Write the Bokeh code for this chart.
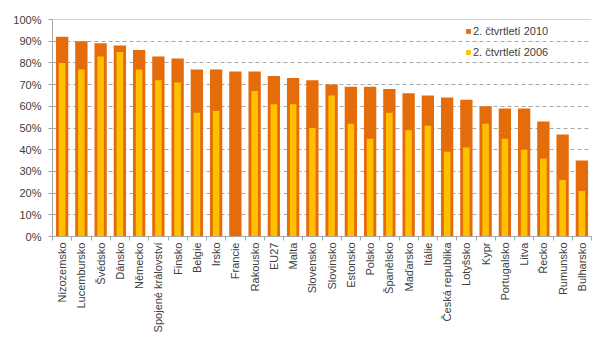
from bokeh.plotting import figure
from bokeh.models import (Range1d, LinearAxis, FixedTicker, CustomJSTickFormatter,
                          PrintfTickFormatter, Span, Legend, LegendItem, Label, ColumnDataSource)
from bokeh.embed import file_html
from bokeh.resources import INLINE

countries = ["Nizozemsko", "Lucembursko", "Švédsko", "Dánsko", "Německo", "Spojené království",
             "Finsko", "Belgie", "Irsko", "Francie", "Rakousko", "EU27", "Malta", "Slovensko",
             "Slovinsko", "Estonsko", "Polsko", "Španělsko", "Maďarsko", "Itálie",
             "Česká republika", "Lotyšsko", "Kypr", "Portugalsko", "Litva", "Řecko",
             "Rumunsko", "Bulharsko"]
q2_2010 = [92, 90, 89, 88, 86, 83, 82, 77, 77, 76, 76, 74, 73, 72,
           70, 69, 69, 68, 66, 65, 64, 63, 60, 59, 59, 53, 47, 35]
q2_2006 = [80, 77, 83, 85, 77, 72, 71, 57, 58, float("nan"), 67, 61, 61, 50,
           65, 52, 45, 57, 49, 51, 39, 41, 52, 45, 40, 36, 26, 21]
y_ticks = [0, 10, 20, 30, 40, 50, 60, 70, 80, 90, 100]
title_text = "Domácnosti s počítačem v zemích EU (% domácností)"
label_2010 = "2. čtvrtletí 2010"
label_2006 = "2. čtvrtletí 2006"

ORANGE = "#E46C0A"
YELLOW = "#FFC000"
AXIS = "#A6A6A6"
TEXT = "#404040"
FONT = "Liberation Sans"

n = len(countries)
centers = [i + 0.5 for i in range(n)]
src = ColumnDataSource(dict(x=centers, a=q2_2010, b=q2_2006))

p = figure(width=600, height=350, x_range=Range1d(0, n), y_range=Range1d(0, 100),
           output_backend="svg", toolbar_location=None,
           x_axis_location=None, y_axis_location=None,
           min_border_left=52, min_border_right=9, min_border_top=19, min_border_bottom=114)
p.outline_line_color = None
p.background_fill_color = "white"
p.border_fill_color = "white"

# y axis
yax = LinearAxis(ticker=FixedTicker(ticks=y_ticks), formatter=PrintfTickFormatter(format="%d%%"))
yax.axis_line_color = AXIS
yax.major_tick_line_color = AXIS
yax.major_tick_out = 4
yax.major_tick_in = 0
yax.minor_tick_line_color = None
yax.major_label_standoff = 7
yax.major_label_text_font = FONT
yax.major_label_text_font_size = "11px"
yax.major_label_text_color = TEXT
p.add_layout(yax, "left")

# tick-only x axis at category boundaries
tax = LinearAxis(ticker=FixedTicker(ticks=list(range(n + 1))),
                 formatter=CustomJSTickFormatter(code="return '';"))
tax.axis_line_color = AXIS
tax.major_tick_line_color = AXIS
tax.major_tick_out = 4
tax.major_tick_in = 0
tax.minor_tick_line_color = None
tax.major_label_text_font_size = "0px"
tax.major_label_standoff = 0
p.add_layout(tax, "below")

# category labels
cax = LinearAxis(ticker=FixedTicker(ticks=centers),
                 formatter=CustomJSTickFormatter(args=dict(names=countries),
                                                 code="return names[Math.round(tick - 0.5)] || '';"))
cax.axis_line_color = None
cax.major_tick_line_color = None
cax.minor_tick_line_color = None
cax.major_tick_out = 0
cax.major_label_orientation = 1.5708
cax.major_label_standoff = 2
cax.major_label_text_font = FONT
cax.major_label_text_font_size = "11px"
cax.major_label_text_color = TEXT
p.add_layout(cax, "below")

p.ygrid.ticker = FixedTicker(ticks=[10, 20, 30, 40, 50, 60, 70, 80, 90])
p.ygrid.grid_line_color = AXIS
p.ygrid.grid_line_dash = "4 3"
p.xgrid.grid_line_color = None
p.add_layout(Span(location=100, dimension="width", line_color=AXIS, line_width=1))

r1 = p.vbar(x="x", top="a", width=0.64, source=src, fill_color=ORANGE, line_color=None)
r2 = p.vbar(x="x", top="b", width=0.34, source=src, fill_color=YELLOW, line_color=None)

leg = Legend(items=[LegendItem(label=label_2010, renderers=[r1]),
                    LegendItem(label=label_2006, renderers=[r2])],
             location=(413, 178))
leg.background_fill_alpha = 0
leg.border_line_color = None
leg.glyph_width = 6
leg.glyph_height = 6
leg.label_height = 12
leg.label_standoff = 2
leg.spacing = 9
leg.padding = 0
leg.margin = 0
leg.label_text_font = FONT
leg.label_text_font_size = "11px"
leg.label_text_color = TEXT
p.add_layout(leg)

title = Label(x=-51, y=226, x_units="screen", y_units="screen", text=title_text,
              text_font=FONT, text_font_size="13px", text_font_style="bold",
              text_color="#262626", text_baseline="alphabetic")
p.add_layout(title)

open("out.html", "w").write(file_html(p, INLINE))
